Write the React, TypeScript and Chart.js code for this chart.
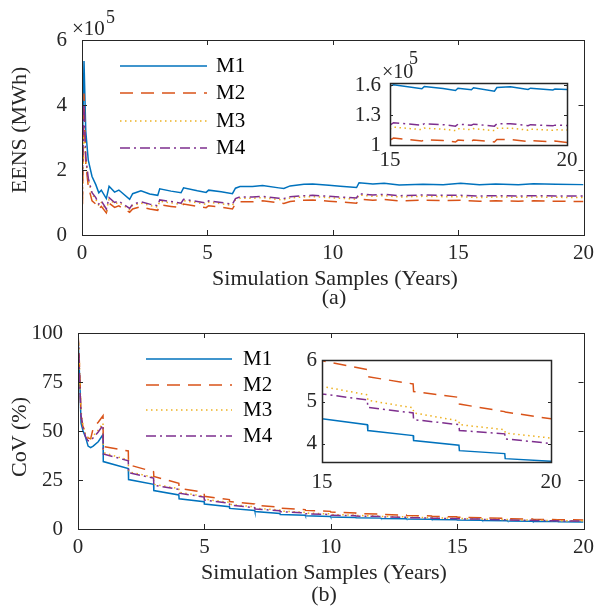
import React, { useEffect, useRef } from 'react';
import { Chart, registerables } from 'chart.js';

Chart.register(...registerables);

const SERIF = "'Liberation Serif', 'Times New Roman', Times, serif";
const AXIS_COLOR = '#262626';

const seriesNames = ['M1', 'M2', 'M3', 'M4'];
const seriesColors = ['#0072BD', '#D95319', '#EDB120', '#7E2F8E'];
const seriesDashes: number[][] = [[], [13, 8], [1.5, 3.5], [10, 4, 2, 4]];

// ---------- (a) EENS, in units of 10^5 MWh ----------
const eensYears = [0, 0.02, 0.08, 0.15, 0.25, 0.4, 0.55, 0.67, 0.77, 0.97, 1.08, 1.3, 1.47, 1.55, 1.9, 2.02, 2.35, 2.7, 3.02, 3.1, 3.55, 3.95, 4.05, 4.6, 4.95, 5.05, 5.55, 6.0, 6.12, 6.3, 6.8, 7.2, 7.85, 8.05, 8.3, 8.85, 9.2, 9.85, 10.3, 10.95, 11.05, 11.6, 12.05, 12.65, 13.6, 14.4, 15.1, 15.85, 16.5, 17.4, 18.0, 18.9, 20];
const eensM1 = [2.6, 2.8, 5.35, 3.2, 2.3, 1.8, 1.55, 1.3, 1.38, 1.12, 1.5, 1.32, 1.38, 1.33, 1.1, 1.27, 1.36, 1.26, 1.22, 1.42, 1.35, 1.3, 1.45, 1.36, 1.31, 1.38, 1.33, 1.27, 1.44, 1.49, 1.49, 1.52, 1.45, 1.43, 1.51, 1.56, 1.57, 1.53, 1.5, 1.46, 1.61, 1.57, 1.59, 1.54, 1.56, 1.55, 1.59, 1.55, 1.57, 1.55, 1.58, 1.56, 1.55];
const eensM2 = [0.3, 1.0, 4.35, 2.2, 1.5, 1.05, 0.95, 0.8, 0.88, 0.68, 0.98, 0.85, 0.9, 0.86, 0.7, 0.8, 0.87, 0.8, 0.76, 0.93, 0.88, 0.84, 0.95, 0.88, 0.84, 0.9, 0.86, 0.8, 0.97, 1.02, 1.02, 1.05, 0.99, 0.97, 1.03, 1.07, 1.08, 1.04, 1.02, 0.98, 1.1, 1.07, 1.09, 1.05, 1.07, 1.06, 1.07, 1.04, 1.05, 1.04, 1.05, 1.04, 1.03];
const eensM3 = [0.5, 1.2, 3.3, 2.3, 1.7, 1.25, 1.1, 0.9, 1.0, 0.76, 1.1, 0.96, 1.0, 0.96, 0.78, 0.91, 0.98, 0.91, 0.86, 1.04, 0.99, 0.94, 1.06, 0.99, 0.94, 1.01, 0.96, 0.91, 1.08, 1.13, 1.13, 1.15, 1.09, 1.08, 1.14, 1.17, 1.18, 1.15, 1.13, 1.1, 1.23, 1.19, 1.21, 1.17, 1.19, 1.18, 1.18, 1.15, 1.17, 1.16, 1.17, 1.16, 1.15];
const eensM4 = [0, 1.9, 4.05, 2.4, 1.75, 1.3, 1.15, 0.95, 1.05, 0.8, 1.15, 1.0, 1.05, 1.0, 0.82, 0.95, 1.02, 0.95, 0.9, 1.08, 1.03, 0.98, 1.1, 1.03, 0.98, 1.05, 1.0, 0.95, 1.12, 1.17, 1.17, 1.19, 1.13, 1.12, 1.18, 1.21, 1.22, 1.19, 1.17, 1.14, 1.27, 1.23, 1.25, 1.21, 1.23, 1.22, 1.22, 1.2, 1.21, 1.2, 1.21, 1.2, 1.2];
const eensYTicks = [0, 2, 4, 6];

// inset of (a): years 15-20
const eensInsetYears = [15.0, 15.1, 15.9, 15.97, 16.5, 16.85, 16.92, 17.3, 17.36, 17.95, 18.02, 18.4, 18.9, 18.97, 19.6, 19.66, 20.0];
const eensInsetM1 = [1.595, 1.607, 1.567, 1.59, 1.57, 1.55, 1.572, 1.557, 1.577, 1.543, 1.58, 1.587, 1.56, 1.573, 1.555, 1.565, 1.56];
const eensInsetM2 = [1.05, 1.07, 1.04, 1.055, 1.045, 1.03, 1.05, 1.04, 1.05, 1.03, 1.055, 1.055, 1.035, 1.045, 1.033, 1.04, 1.025];
const eensInsetM3 = [1.16, 1.18, 1.155, 1.17, 1.16, 1.145, 1.165, 1.155, 1.165, 1.145, 1.17, 1.17, 1.15, 1.16, 1.148, 1.155, 1.15];
const eensInsetM4 = [1.2, 1.225, 1.2, 1.215, 1.205, 1.19, 1.21, 1.2, 1.21, 1.19, 1.215, 1.215, 1.195, 1.205, 1.193, 1.2, 1.197];
const eensInsetYTicks = [1, 1.3, 1.6];
const insetXTicks = [15, 20];

// ---------- (b) CoV (%) ----------
const covYears = [0, 0.04, 0.08, 0.12, 0.2, 0.3, 0.4, 0.5, 0.6, 0.8, 0.99, 1, 1.99, 2, 2.99, 3, 3.99, 4, 4.99, 5, 5.99, 6, 6.99, 7, 7.99, 8, 8.99, 9, 9.99, 10, 10.99, 11, 11.99, 12, 12.99, 13, 13.99, 14, 14.99, 15, 15.99, 16, 16.99, 17, 17.99, 18, 18.99, 19, 20];
const covM1 = [100, 85, 72, 54, 50, 46.8, 42.3, 41.5, 42.3, 44.5, 48.2, 34.4, 30.8, 25.2, 22.8, 19.6, 17.4, 15.4, 13.9, 12.7, 11.4, 10.5, 9.5, 8.9, 7.9, 7.45, 7.05, 6.75, 6.4, 6.15, 5.9, 5.72, 5.55, 5.4, 5.25, 5.12, 4.98, 4.86, 4.73, 4.6, 4.46, 4.32, 4.2, 4.08, 3.97, 3.84, 3.77, 3.65, 3.59];
const covM2 = [100, 90, 76, 57, 52, 48.8, 46.5, 46, 51.4, 54.5, 57.8, 42.1, 39.8, 32.8, 29.2, 26.8, 23.3, 20.8, 18.7, 16.7, 15.0, 14.0, 12.8, 12.1, 11.1, 10.6, 9.9, 9.5, 9.0, 8.65, 8.2, 7.95, 7.6, 7.4, 7.1, 6.9, 6.65, 6.5, 6.2, 5.98, 5.77, 5.6, 5.43, 5.25, 5.11, 4.95, 4.77, 4.76, 4.6];
const covM3 = [100, 92, 74, 60, 53, 48, 46, 46, 47.5, 50.5, 54, 39, 35.2, 29.2, 26.4, 22.8, 20.6, 18.7, 16.7, 15.2, 13.6, 12.6, 11.3, 10.6, 9.7, 9.2, 8.55, 8.15, 7.7, 7.35, 7.1, 6.9, 6.6, 6.4, 6.2, 6.05, 5.82, 5.7, 5.5, 5.37, 5.17, 5.04, 4.86, 4.74, 4.55, 4.46, 4.34, 4.26, 4.14];
const covM4 = [100, 88, 70, 58, 52, 47, 45, 45, 46.5, 49.5, 53, 38.3, 34.8, 28.7, 26.0, 22.3, 20.2, 18.3, 16.3, 14.8, 13.2, 12.2, 10.9, 10.2, 9.35, 8.85, 8.2, 7.8, 7.4, 7.05, 6.8, 6.6, 6.35, 6.15, 5.95, 5.8, 5.6, 5.48, 5.32, 5.19, 5.05, 4.87, 4.74, 4.58, 4.46, 4.32, 4.24, 4.12, 4.01];
const covYTicks = [0, 25, 50, 75, 100];
const covInsetYTicks = [4, 5, 6];

const mainXTicks = [0, 5, 10, 15, 20];

type TextItem = { text: string; x: number; y: number; size: number; align?: CanvasTextAlign; baseline?: CanvasTextBaseline; rotate?: boolean };

type PanelSpec = {
  left: number; top: number; w: number; h: number;
  padTop: number; padRight: number; yWidth: number; xHeight: number;
  xMin: number; xMax: number; xTicks: number[];
  yMin: number; yMax: number; yTicks: number[];
  xs: number[]; series: number[][];
  tickFont: number; xPad: number; yPad: number; tickLen: number; boxWidth: number;
  fillWhite?: boolean;
  texts: TextItem[];
  legend?: { x1: number; x2: number; tx: number; ys: number[]; size: number };
};

function makeConfig(spec: PanelSpec): any {
  const datasets = spec.series.map((vals, i) => ({
    label: seriesNames[i],
    data: spec.xs.map((x, j) => ({ x, y: vals[j] })),
    borderColor: seriesColors[i],
    backgroundColor: seriesColors[i],
    borderWidth: 1.5,
    borderDash: seriesDashes[i],
    pointRadius: 0,
    tension: 0,
    fill: false,
    order: 3 - i,
  }));
  const tickFont = { family: SERIF, size: spec.tickFont };
  const framePlugin = {
    id: 'frame',
    beforeDatasetsDraw(chart: any) {
      if (!spec.fillWhite) return;
      const a = chart.chartArea;
      const ctx = chart.ctx;
      ctx.save();
      ctx.fillStyle = '#ffffff';
      ctx.fillRect(a.left, a.top, a.right - a.left, a.bottom - a.top);
      ctx.restore();
    },
    afterDraw(chart: any) {
      const { ctx, chartArea: a, scales } = chart;
      ctx.save();
      ctx.strokeStyle = AXIS_COLOR;
      ctx.lineWidth = 1;
      const L = spec.tickLen;
      ctx.beginPath();
      scales.x.ticks.forEach((t: any) => {
        const p = Math.round(scales.x.getPixelForValue(t.value)) + 0.5;
        ctx.moveTo(p, a.bottom); ctx.lineTo(p, a.bottom - L);
        ctx.moveTo(p, a.top); ctx.lineTo(p, a.top + L);
      });
      scales.y.ticks.forEach((t: any) => {
        const p = Math.round(scales.y.getPixelForValue(t.value)) + 0.5;
        ctx.moveTo(a.left, p); ctx.lineTo(a.left + L, p);
        ctx.moveTo(a.right, p); ctx.lineTo(a.right - L, p);
      });
      ctx.stroke();
      ctx.lineWidth = spec.boxWidth;
      ctx.strokeRect(Math.round(a.left) + 0.5, Math.round(a.top) + 0.5, Math.round(a.right - a.left), Math.round(a.bottom - a.top));
      ctx.fillStyle = AXIS_COLOR;
      spec.texts.forEach((t) => {
        ctx.save();
        ctx.font = `${t.size}px ${SERIF}`;
        ctx.textAlign = t.align || 'center';
        ctx.textBaseline = t.baseline || 'middle';
        ctx.translate(t.x, t.y);
        if (t.rotate) ctx.rotate(-Math.PI / 2);
        ctx.fillText(t.text, 0, 0);
        ctx.restore();
      });
      if (spec.legend) {
        const lg = spec.legend;
        lg.ys.forEach((y, i) => {
          ctx.save();
          ctx.strokeStyle = seriesColors[i];
          ctx.lineWidth = 1.5;
          ctx.setLineDash(seriesDashes[i]);
          ctx.beginPath();
          ctx.moveTo(lg.x1, y);
          ctx.lineTo(lg.x2, y);
          ctx.stroke();
          ctx.restore();
          ctx.fillStyle = '#000000';
          ctx.font = `${lg.size}px ${SERIF}`;
          ctx.textAlign = 'left';
          ctx.textBaseline = 'middle';
          ctx.fillText(seriesNames[i], lg.tx, y);
        });
      }
      ctx.restore();
    },
  };
  return {
    type: 'line',
    data: { datasets },
    options: {
      responsive: false,
      animation: false,
      events: [],
      layout: { padding: { left: 0, top: spec.padTop, right: spec.padRight, bottom: 0 } },
      plugins: { legend: { display: false }, tooltip: { enabled: false }, title: { display: false } },
      scales: {
        x: {
          type: 'linear',
          min: spec.xMin,
          max: spec.xMax,
          grid: { display: false, drawTicks: false, tickLength: 0 },
          border: { display: false },
          afterBuildTicks: (s: any) => { s.ticks = spec.xTicks.map((v) => ({ value: v })); },
          afterFit: (s: any) => { s.height = spec.xHeight; },
          ticks: { font: tickFont, color: AXIS_COLOR, padding: spec.xPad, maxRotation: 0, autoSkip: false, callback: (v: any) => String(v) },
        },
        y: {
          type: 'linear',
          min: spec.yMin,
          max: spec.yMax,
          grid: { display: false, drawTicks: false, tickLength: 0 },
          border: { display: false },
          afterBuildTicks: (s: any) => { s.ticks = spec.yTicks.map((v) => ({ value: v })); },
          afterFit: (s: any) => { s.width = spec.yWidth; },
          ticks: { font: tickFont, color: AXIS_COLOR, padding: spec.yPad, autoSkip: false, callback: (v: any) => String(v) },
        },
      },
    },
    plugins: [framePlugin],
  };
}

const panels: PanelSpec[] = [
  {
    left: 0, top: 0, w: 600, h: 314,
    padTop: 40, padRight: 12, yWidth: 82, xHeight: 79,
    xMin: 0, xMax: 20, xTicks: mainXTicks,
    yMin: 0, yMax: 6, yTicks: eensYTicks,
    xs: eensYears, series: [eensM1, eensM2, eensM3, eensM4],
    tickFont: 21, xPad: 6, yPad: 15, tickLen: 5, boxWidth: 1,
    texts: [
      { text: 'EENS (MWh)', x: 20, y: 130, size: 22, rotate: true },
      { text: 'Simulation Samples (Years)', x: 335, y: 279, size: 22 },
      { text: '(a)', x: 334, y: 298, size: 22 },
      { text: '×10', x: 72, y: 35, size: 21, align: 'left', baseline: 'alphabetic' },
      { text: '5', x: 106, y: 23, size: 18, align: 'left', baseline: 'alphabetic' },
    ],
    legend: { x1: 120, x2: 207, tx: 216, ys: [66, 93, 121, 148], size: 21 },
  },
  {
    left: 0, top: 300, w: 600, h: 314,
    padTop: 33, padRight: 12, yWidth: 78, xHeight: 85,
    xMin: 0, xMax: 20, xTicks: mainXTicks,
    yMin: 0, yMax: 100, yTicks: covYTicks,
    xs: covYears, series: [covM1, covM2, covM3, covM4],
    tickFont: 21, xPad: 6, yPad: 15, tickLen: 5, boxWidth: 1,
    texts: [
      { text: 'CoV (%)', x: 20, y: 137, size: 22, rotate: true },
      { text: 'Simulation Samples (Years)', x: 324, y: 273, size: 22 },
      { text: '(b)', x: 324, y: 295, size: 22 },
    ],
    legend: { x1: 146, x2: 232, tx: 243, ys: [59, 85, 110, 136], size: 21 },
  },
  {
    left: 330, top: 45, w: 260, h: 130,
    padTop: 38, padRight: 23, yWidth: 60, xHeight: 30,
    xMin: 15, xMax: 20, xTicks: insetXTicks,
    yMin: 1, yMax: 1.625, yTicks: eensInsetYTicks,
    xs: eensInsetYears, series: [eensInsetM1, eensInsetM2, eensInsetM3, eensInsetM4],
    tickFont: 21, xPad: 3, yPad: 9, tickLen: 3, boxWidth: 1.5, fillWhite: true,
    texts: [
      { text: '×10', x: 52, y: 33, size: 20, align: 'left', baseline: 'alphabetic' },
      { text: '5', x: 79, y: 19, size: 18, align: 'left', baseline: 'alphabetic' },
    ],
  },
  {
    left: 280, top: 340, w: 290, h: 160,
    padTop: 20, padRight: 19, yWidth: 42, xHeight: 38,
    xMin: 15, xMax: 20, xTicks: insetXTicks,
    yMin: 3.57, yMax: 6, yTicks: covInsetYTicks,
    xs: covYears, series: [covM1, covM2, covM3, covM4],
    tickFont: 21, xPad: 8, yPad: 5, tickLen: 3, boxWidth: 1.5, fillWhite: true,
    texts: [],
  },
];

function Panel({ spec }: { spec: PanelSpec }) {
  const ref = useRef<HTMLCanvasElement>(null);
  useEffect(() => {
    if (!ref.current) return;
    const chart = new Chart(ref.current, makeConfig(spec));
    return () => chart.destroy();
  }, [spec]);
  return (
    <canvas
      ref={ref}
      width={spec.w}
      height={spec.h}
      style={{ position: 'absolute', left: spec.left, top: spec.top, width: spec.w, height: spec.h }}
    />
  );
}

export default function App() {
  return (
    <div style={{ position: 'absolute', left: 0, top: 0, width: 600, height: 614, background: '#ffffff', overflow: 'hidden' }}>
      {panels.map((p, i) => (
        <Panel key={i} spec={p} />
      ))}
    </div>
  );
}
